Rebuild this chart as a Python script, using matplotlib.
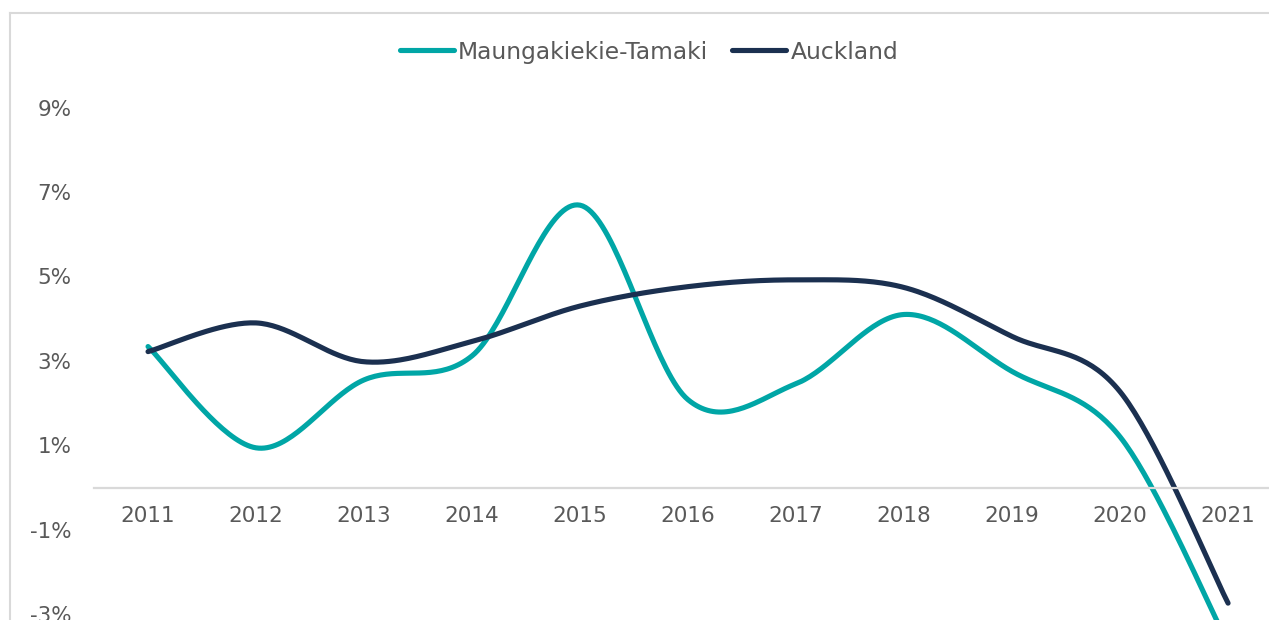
import numpy as np
import matplotlib
matplotlib.use("Agg")
from matplotlib import pyplot as plt
from matplotlib.lines import Line2D

years = ['2011', '2012', '2013', '2014', '2015', '2016', '2017', '2018', '2019', '2020', '2021']
maungakiekie = [3.34, 0.94, 2.55, 3.12, 6.69, 2.08, 2.46, 4.10, 2.75, 1.20, -3.70]
auckland = [3.22, 3.90, 2.98, 3.46, 4.30, 4.76, 4.92, 4.74, 3.58, 2.27, -2.74]
yticks = [-3, -1, 1, 3, 5, 7, 9]

teal = '#00A6A6'
navy = '#1B3050'
txt = '#595959'
grid = '#D9D9D9'


# smooth line like excel (catmull-rom as bezier segments)
def smooth(y, n=40):
    y = np.asarray(y, dtype=float)
    x = np.arange(len(y), dtype=float)
    P = np.column_stack([x, y])
    P = np.vstack([P[0], P, P[-1]])
    out = []
    t = np.linspace(0, 1, n)[:, None]
    for i in range(1, len(P) - 2):
        p0, p1, p2, p3 = P[i - 1], P[i], P[i + 1], P[i + 2]
        c1 = p1 + (p2 - p0) / 6
        c2 = p2 - (p3 - p1) / 6
        seg = (1 - t) ** 3 * p1 + 3 * (1 - t) ** 2 * t * c1 + 3 * (1 - t) * t ** 2 * c2 + t ** 3 * p2
        out.append(seg if i == 1 else seg[1:])
    out = np.vstack(out)
    return out[:, 0], out[:, 1]


plt.rcParams['font.family'] = ['DejaVu Sans']

fig = plt.figure(figsize=(12.69, 6.2), dpi=100)
ax = fig.add_axes([0.0741, 0.0095, 0.9362, 0.8168])

sx, sy = smooth(maungakiekie)
ax.plot(sx, sy, color=teal, lw=3.7, solid_capstyle='round', clip_on=False, label='Maungakiekie-Tamaki')
sx, sy = smooth(auckland)
ax.plot(sx, sy, color=navy, lw=3.7, solid_capstyle='round', clip_on=False, label='Auckland')

ax.set_xlim(-0.5, 10.5)
ax.set_ylim(-3, 9)
ax.set_yticks(yticks)
ax.set_yticklabels([f'{v}%' for v in yticks])
ax.set_xticks(range(len(years)))
ax.set_xticklabels(years)

for s in ['top', 'right', 'left']:
    ax.spines[s].set_visible(False)
ax.spines['bottom'].set_position(('data', 0))
ax.spines['bottom'].set_color(grid)
ax.spines['bottom'].set_linewidth(1.6)

ax.tick_params(axis='both', length=0, labelsize=15.5, labelcolor=txt)
ax.tick_params(axis='y', pad=16)
ax.tick_params(axis='x', pad=13)

leg = fig.legend(loc='center', bbox_to_anchor=(0.5114, 0.916), ncol=2, frameon=False,
                 fontsize=16.8, handlelength=2.3, handletextpad=0.18, columnspacing=1.05)
for t in leg.get_texts():
    t.set_color(txt)

# chart frame lines (left and top)
fig.add_artist(Line2D([9.5 / 1269, 9.5 / 1269], [0, 1 - 13 / 620], color=grid, lw=1.5, transform=fig.transFigure))
fig.add_artist(Line2D([9.5 / 1269, 1], [1 - 13 / 620, 1 - 13 / 620], color=grid, lw=1.5, transform=fig.transFigure))

fig.savefig('out.png', dpi=100)
